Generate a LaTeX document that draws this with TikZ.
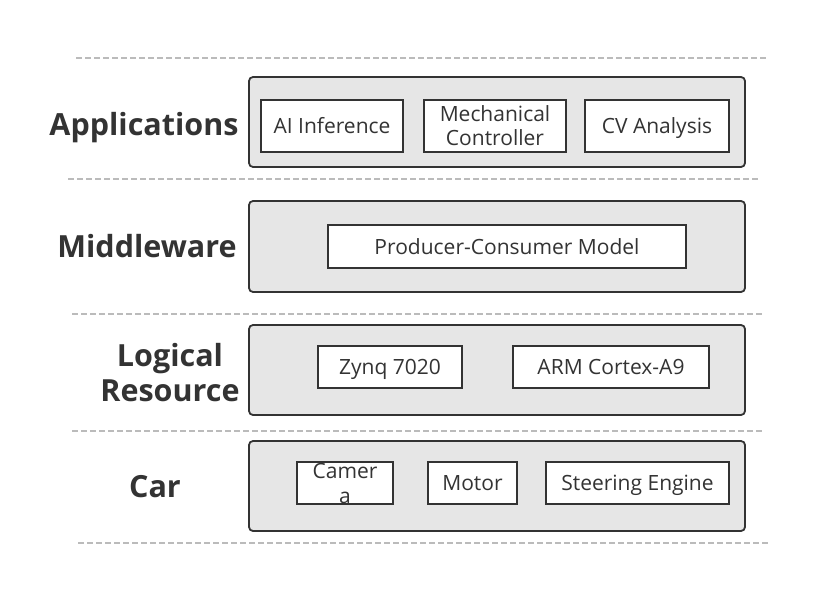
\documentclass[tikz,border=0pt]{standalone}
\usepackage{fontspec}
\setmainfont{Open Sans}
\definecolor{ink}{HTML}{333333}
\definecolor{layerfill}{HTML}{E6E6E6}
\definecolor{dashgray}{HTML}{BBBBBB}
\begin{document}
\begin{tikzpicture}[x=1pt,y=-1pt,
  layerbox/.style={draw=ink,fill=layerfill,line width=1.8pt,rounded corners=4pt,inner sep=0pt},
  itembox/.style={draw=ink,fill=white,line width=1.8pt,inner sep=0pt,align=center,text=ink,font=\fontsize{21}{24}\selectfont,text height=15pt,text depth=0pt},
  layerlabel/.style={text=ink,font=\fontsize{30.5}{35.5}\selectfont\bfseries,align=center,inner sep=0pt,text height=21.8pt,text depth=0pt},
  sepline/.style={draw=dashgray,line width=1.3pt,dash pattern=on 6pt off 3pt}]
\useasboundingbox[fill=white] (0,0) rectangle (830,615);
% separators
\draw[sepline] (76,58) -- (766,58);
\draw[sepline] (68,179) -- (760,179);
\draw[sepline] (72,314) -- (762,314);
\draw[sepline] (72,431) -- (762,431);
\draw[sepline] (78,543) -- (768,543);
% layers
\node[layerbox,minimum width=496pt,minimum height=90pt] (appL) at (497,122) {};
\node[layerbox,minimum width=496pt,minimum height=91pt] (midL) at (497,246.5) {};
\node[layerbox,minimum width=496pt,minimum height=90pt] (logL) at (497,370) {};
\node[layerbox,minimum width=496pt,minimum height=90pt] (carL) at (497,486) {};
% labels
\node[layerlabel] (appT) at (144,124.5) {Applications};
\node[layerlabel] (midT) at (147,246.5) {Middleware};
\node[layerlabel,text height=57.3pt] (logT) at (170,373) {Logical\\Resource};
\node[layerlabel] (carT) at (155,487) {Car};
% items
\node[itembox,minimum width=142pt,minimum height=52pt] (ai) at (332,126) {AI Inference};
\node[itembox,minimum width=142pt,minimum height=52pt,text height=39pt] (mech) at (495,126) {Mechanical\\Controller};
\node[itembox,minimum width=144pt,minimum height=52pt] (cv) at (657,126) {CV Analysis};
\node[itembox,minimum width=358pt,minimum height=43pt] (pc) at (507,246.5) {Producer-Consumer Model};
\node[itembox,minimum width=144pt,minimum height=42pt] (zynq) at (390,367) {Zynq 7020};
\node[itembox,minimum width=196pt,minimum height=42pt] (arm) at (611,367) {ARM Cortex-A9};
\node[itembox,minimum width=96pt,minimum height=42pt] (cam) at (345,483) {};
\node[text=ink,font=\fontsize{21}{25}\selectfont,align=center,inner sep=0pt,text height=40pt,text depth=0pt] (camT) at (345,483) {Camer\\a};
\node[itembox,minimum width=89pt,minimum height=42pt] (motor) at (472.5,483) {Motor};
\node[itembox,minimum width=183pt,minimum height=42pt] (steer) at (637.5,483) {Steering Engine};
\end{tikzpicture}
\end{document}
